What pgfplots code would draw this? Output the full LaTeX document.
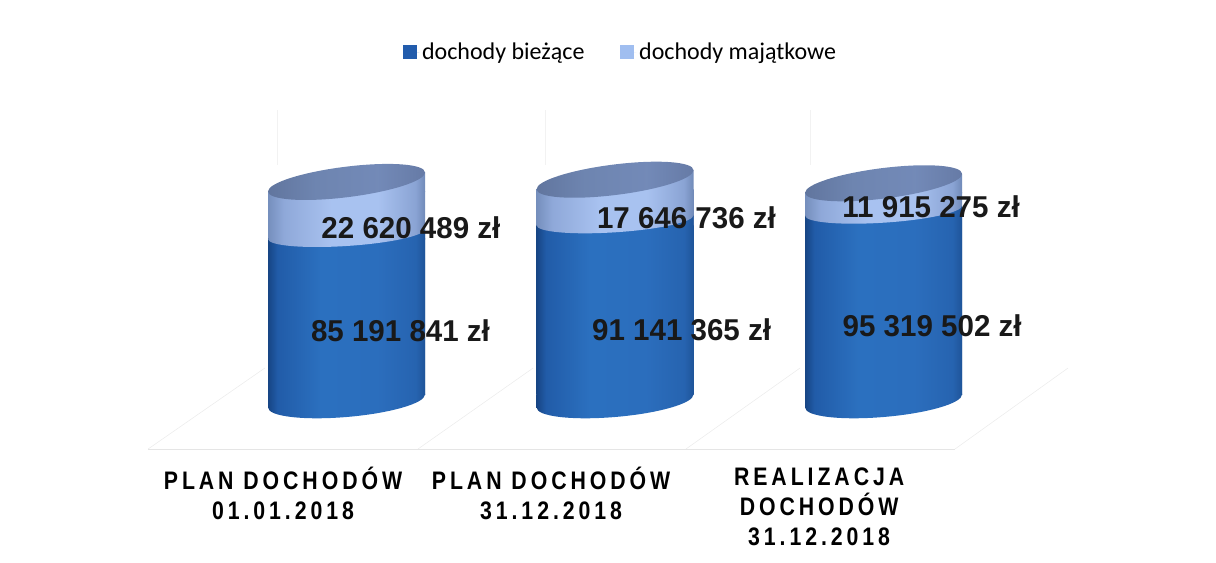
\documentclass[border=0pt]{standalone}
\usepackage{fontspec}
\usepackage{pgfplots}
\usepackage{pgfplotstable}
\pgfplotsset{compat=1.18}
\setmainfont{Carlito}
\newfontfamily\catfont[LetterSpace=15.5,FakeStretch=0.84]{Liberation Sans}
\newfontfamily\valfont[FakeStretch=0.98]{Liberation Sans}

\definecolor{legdark}{RGB}{34,92,172}
\definecolor{leglight}{RGB}{160,190,240}

\pgfdeclarehorizontalshading{cylb}{100bp}{
  rgb(0bp)=(.09,.27,.52); rgb(25bp)=(.09,.27,.52); rgb(28bp)=(.13,.36,.66); rgb(42bp)=(.17,.44,.75);
  rgb(60bp)=(.17,.43,.74); rgb(72bp)=(.15,.39,.69); rgb(75bp)=(.12,.33,.60); rgb(100bp)=(.12,.33,.60)}
\pgfdeclarehorizontalshading{cyll}{100bp}{
  rgb(0bp)=(.46,.56,.74); rgb(25bp)=(.46,.56,.74); rgb(30bp)=(.56,.66,.85); rgb(45bp)=(.66,.76,.94);
  rgb(60bp)=(.66,.76,.94); rgb(72bp)=(.54,.64,.83); rgb(75bp)=(.44,.54,.72); rgb(100bp)=(.44,.54,.72)}
\pgfdeclarehorizontalshading{cylt}{100bp}{
  rgb(0bp)=(.38,.46,.62); rgb(25bp)=(.38,.46,.62); rgb(40bp)=(.43,.52,.69); rgb(60bp)=(.45,.54,.72);
  rgb(75bp)=(.40,.48,.65); rgb(100bp)=(.40,.48,.65)}

% values in millions of zl
\pgfplotstableread{
x  base biezace majatkowe suma
0  12.6 85.191841 22.620489 107.81233
1  12.6 91.141365 17.646736 108.788101
2  12.6 95.319502 11.915275 107.234777
}\cyl

\pgfplotstableread[col sep=comma]{
x,y,label
0.240,87.8,{22 620 489 zł}
0.201,43.0,{85 191 841 zł}
1.266,92.2,{17 646 736 zł}
1.248,43.5,{91 141 365 zł}
2.177,96.9,{11 915 275 zł}
2.181,45.2,{95 319 502 zł}
}\vals

% ellipse with vertical tangents at the cylinder's sides
\newcommand\cylell[2]{\pgfpathellipse{\pgfpointorigin}{\pgfpoint{58.875pt}{#1pt}}{\pgfpoint{0pt}{#2pt}}}
% slanted piece between a flat bar end and the ellipse's chord
\newcommand\cylpoly[3]{\pgfpathmoveto{\pgfpoint{-58.875pt}{#1pt}}\pgfpathlineto{\pgfpoint{58.875pt}{#2pt}}%
  \pgfpathlineto{\pgfpoint{58.875pt}{#3pt}}\pgfpathlineto{\pgfpoint{-58.875pt}{#3pt}}\pgfpathclose}
\pgfdeclareplotmark{cylbase}{\cylell{4.9}{12}\pgfshadepath{cylb}{0}\pgfusepath{discard}%
  \cylpoly{-4.9}{4.9}{5.4}\pgfshadepath{cylb}{0}\pgfusepath{discard}}
\pgfdeclareplotmark{blueside}{\cylpoly{-3.75}{3.75}{-4.25}\pgfshadepath{cylb}{0}\pgfusepath{discard}}
\pgfdeclareplotmark{lightcap}{\cylell{3.75}{9}\pgfshadepath{cyll}{0}\pgfusepath{discard}}
\pgfdeclareplotmark{lightside}{\cylpoly{-7.1}{7.1}{-7.6}\pgfshadepath{cyll}{0}\pgfusepath{discard}}
\pgfdeclareplotmark{cyltop}{\cylell{7.1}{11.5}\pgfshadepath{cylt}{0}\pgfusepath{discard}}

\begin{document}
\begin{tikzpicture}
\useasboundingbox (0,0) rectangle (912pt,421.5pt);

% floor, faint grid, cylinder bases and category labels
\begin{axis}[
at={(0pt,84pt)},anchor=south west,
scale only axis,width=912pt,height=337.5pt,
xmin=-1.2905,xmax=3.238,ymin=-8.7,ymax=186.9,
axis line style={draw=none},
major tick length=0pt,
ytick=\empty,
xtick={-0.2365,0.7617,1.76},
xticklabels={{PLAN DOCHODÓW\\01.01.2018},{PLAN DOCHODÓW\\31.12.2018},{REALIZACJA\\DOCHODÓW\\31.12.2018}},
xticklabel style={align=center,font={\catfont\bfseries\fontsize{19}{22.5}\selectfont},yshift=-9.5pt},
legend columns=2,
legend style={at={(0.5107,0.884)},anchor=center,draw=none,fill=none,font=\fontsize{18}{20}\selectfont,
  /tikz/every even column/.append style={column sep=25pt}},
legend image code/.code={\fill[#1] (0pt,-5.2pt) rectangle (10.5pt,5.3pt);\path (0pt,0pt) -- (12pt,0pt);},
]
\addlegendimage{fill=legdark,draw=none}
\addlegendentry{dochody bieżące}
\addlegendimage{fill=leglight,draw=none}
\addlegendentry{dochody majątkowe}
\addplot[forget plot,black!10,thin] coordinates {(-0.739,-8.27) (2.266,-8.27)};
\addplot[forget plot,black!8,thin] coordinates {(-0.739,-8.27) (-0.304,26.95)};
\addplot[forget plot,black!8,thin] coordinates {(0.266,-8.27) (0.695,26.95)};
\addplot[forget plot,black!8,thin] coordinates {(1.264,-8.27) (1.689,26.95)};
\addplot[forget plot,black!8,thin] coordinates {(2.266,-8.27) (2.687,26.95)};
\addplot[forget plot,black!5,thin] coordinates {(-0.259,115.2) (-0.259,139.1)};
\addplot[forget plot,black!5,thin] coordinates {(0.739,115.2) (0.739,139.1)};
\addplot[forget plot,black!5,thin] coordinates {(1.726,115.2) (1.726,139.1)};
\addplot[forget plot,only marks,mark=cylbase] table[x=x,y=base] {\cyl};
\end{axis}

% cylinders
\begin{axis}[
at={(0pt,125.65pt)},anchor=south west,
scale only axis,width=912pt,height=295.85pt,
xmin=-1.2905,xmax=3.238,ymin=15.44,ymax=186.9,
hide axis,
clip mode=individual,
]
\pgfplotsinvokeforeach{0,1,2}{
\addplot[ybar,bar width=117.75pt,bar shift=0pt,draw=none,shading=cyll,restrict x to domain=#1:#1] table[x=x,y expr=\thisrow{suma}-4.12] {\cyl};
\addplot[ybar,bar width=117.75pt,bar shift=0pt,draw=none,shading=cylb,restrict x to domain=#1:#1] table[x=x,y expr=\thisrow{biezace}-2.17] {\cyl};
}
\addplot[only marks,mark=lightside] table[x=x,y=suma] {\cyl};
\addplot[only marks,mark=blueside] table[x=x,y=biezace] {\cyl};
\addplot[only marks,mark=lightcap] table[x=x,y=biezace] {\cyl};
\addplot[only marks,mark=cyltop] table[x=x,y=suma] {\cyl};
\addplot[only marks,mark size=0pt,draw=none,
  point meta=explicit symbolic,
  nodes near coords,
  every node near coord/.append style={anchor=center,inner sep=0pt,text=black!90,
    font={\valfont\bfseries\fontsize{22.6}{26}\selectfont}},
] table[x=x,y=y,meta=label] {\vals};
\end{axis}
\end{tikzpicture}
\end{document}
